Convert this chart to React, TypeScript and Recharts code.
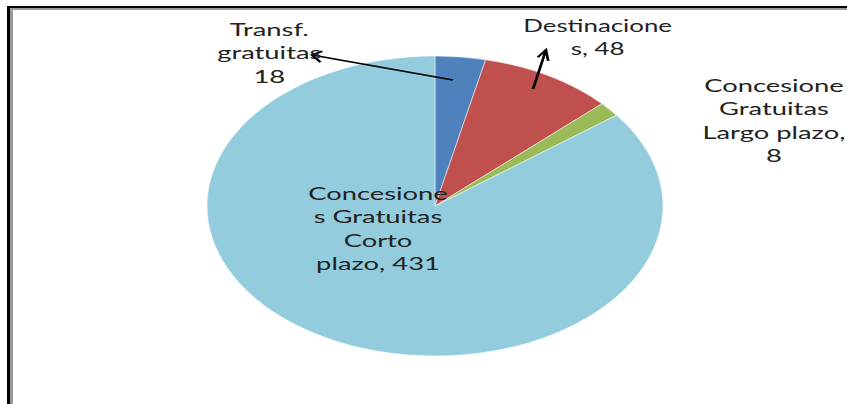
import {PieChart, Pie, Cell} from 'recharts';

const names = ['Transf. gratuitas', 'Destinaciones', 'Concesiones Gratuitas Largo plazo', 'Concesiones Gratuitas Corto plazo'];
const values = [18, 48, 8, 431];
const colors = ['#4F81BD', '#C0504D', '#9BBB59', '#93CDDD'];
// label text as Excel wrapped it, {v} = value
const labelLines = [
    ['Transf.', 'gratuitas', '{v}'],
    ['Destinacione', 's, {v}'],
    ['Concesione', 'Gratuitas', 'Largo plazo,', '{v}'],
    ['Concesione', 's Gratuitas', 'Corto', 'plazo, {v}'],
];

// the original picture is stretched horizontally
const STRETCH = 1.52;
const W = 847;
const H = 404;
const LINE_H = 23.5;

// label offsets from pie centre (unstretched px), arrow = [start, tip]
const labelLayout: {x: number; y: number; size: number; arrow: number[][] | null}[] = [
    {x: -109, y: -170, size: 18, arrow: [[11.8, -126], [-80.9, -151]]},
    {x: 107, y: -174, size: 17, arrow: [[64.5, -117], [73, -156]]},
    {x: 223, y: -114, size: 18, arrow: null},
    {x: -37.5, y: -6, size: 18, arrow: null},
];

const data = names.map((name, i) => ({name, value: values[i]}));

function arrowHead(sx: number, sy: number, tx: number, ty: number) {
    // build chevron in page space so it looks right after stretching
    const dx = (tx - sx) * STRETCH;
    const dy = ty - sy;
    const len = Math.hypot(dx, dy);
    const ux = dx / len;
    const uy = dy / len;
    const L = 11;
    const a = Math.PI / 6;
    const pts = [a, -a].map((t) => {
        const rx = ux * Math.cos(t) - uy * Math.sin(t);
        const ry = ux * Math.sin(t) + uy * Math.cos(t);
        return [tx - (L * rx) / STRETCH, ty - L * ry];
    });
    return `M${pts[0][0]},${pts[0][1]} L${tx},${ty} L${pts[1][0]},${pts[1][1]}`;
}

function renderLabel(props: any) {
    const {cx, cy, index, value} = props;
    const lay = labelLayout[index];
    const lines = labelLines[index].map((l) => l.replace('{v}', String(value)));
    return (
        <g key={`lbl-${index}`}>
            {lay.arrow && (
                <g stroke="#000" strokeWidth={1.8} fill="none">
                    <line x1={cx + lay.arrow[0][0]} y1={cy + lay.arrow[0][1]} x2={cx + lay.arrow[1][0]} y2={cy + lay.arrow[1][1]}/>
                    <path d={arrowHead(cx + lay.arrow[0][0], cy + lay.arrow[0][1], cx + lay.arrow[1][0], cy + lay.arrow[1][1])}/>
                </g>
            )}
            <text x={cx + lay.x} y={cy + lay.y} textAnchor="middle" fill="#222" fontSize={lay.size} fontFamily="Lato">
                {lines.map((l, i) => (
                    <tspan key={i} x={cx + lay.x} dy={i === 0 ? 0 : LINE_H}>{l}</tspan>
                ))}
            </text>
        </g>
    );
}

export default function App() {
    return (
        <div style={{position: 'absolute', left: 0, top: 0, width: W, height: H, background: '#fff', overflow: 'hidden'}}>
            <div style={{
                position: 'absolute', left: 7, top: 6, width: W, height: H,
                borderTop: '2px solid #000', borderLeft: '3px solid #000',
                boxShadow: 'inset 3px 2px 0 #9a9a9a',
            }}/>
            <div style={{position: 'absolute', left: 0, top: 0, transform: `scaleX(${STRETCH})`, transformOrigin: '0 0'}}>
                <PieChart width={W / STRETCH} height={H} margin={{top: 0, right: 0, bottom: 0, left: 0}}>
                    <Pie
                        data={data}
                        dataKey="value"
                        nameKey="name"
                        cx={435 / STRETCH}
                        cy={206}
                        outerRadius={150}
                        startAngle={90}
                        endAngle={-270}
                        stroke="#fff"
                        strokeWidth={0.4}
                        label={renderLabel}
                        labelLine={false}
                        isAnimationActive={false}
                    >
                        {data.map((d, i) => <Cell key={d.name} fill={colors[i]}/>)}
                    </Pie>
                </PieChart>
            </div>
        </div>
    );
}
